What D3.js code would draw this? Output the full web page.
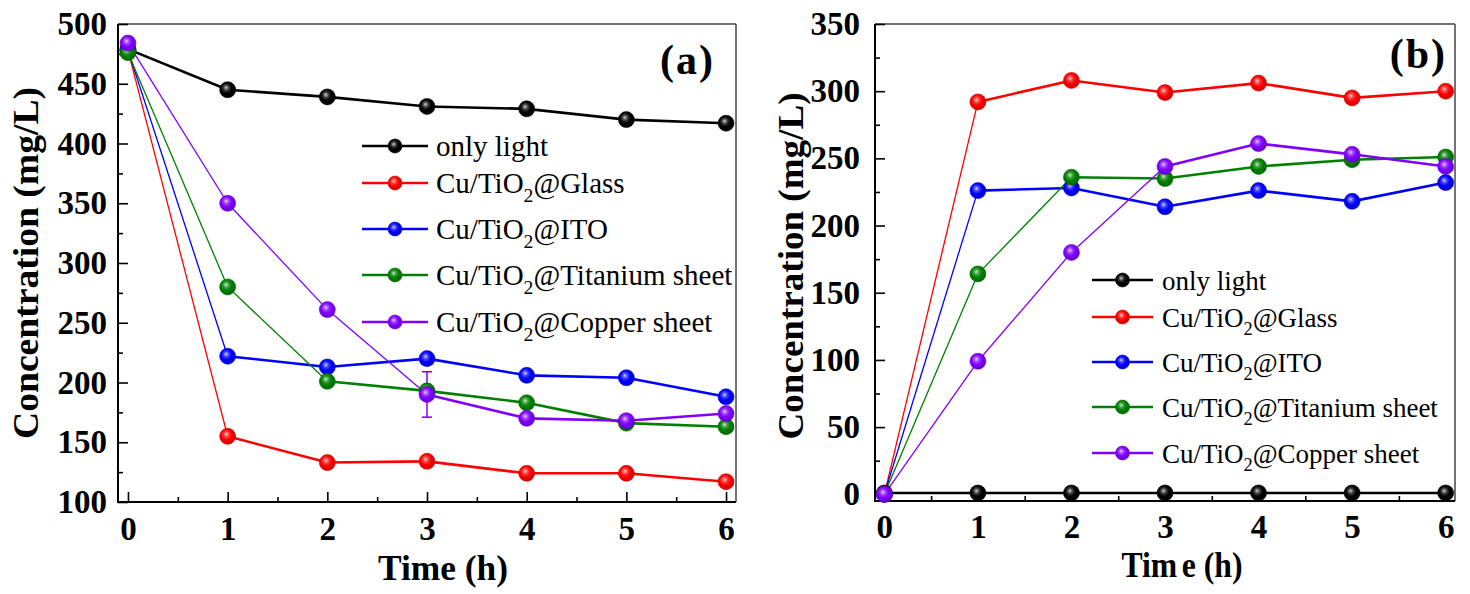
<!DOCTYPE html>
<html><head><meta charset="utf-8">
<script src="https://cdn.jsdelivr.net/npm/d3@7"></script>
<style>body{margin:0;background:#fff} svg{display:block}</style>
</head><body><svg id="c" width="1470" height="594"></svg>
<script>
// ---------------- data ----------------
const hours = [0, 1, 2, 3, 4, 5, 6];
const seriesNames = ["only light", "Cu/TiO2@Glass", "Cu/TiO2@ITO", "Cu/TiO2@Titanium sheet", "Cu/TiO2@Copper sheet"];
const seriesColors = ["#000000", "#ff0000", "#0000ff", "#008000", "#8000ff"];

// panel (a): concentration vs time
const aOnlyLight = [479, 445, 439, 431, 429, 420, 417];
const aGlass     = [478, 155, 133, 134, 124, 124, 117];
const aITO       = [478, 222, 213, 220, 206, 204, 188];
const aTitanium  = [476, 280, 201, 193, 183, 166, 163];
const aCopper    = [484, 350, 261, 190, 170, 168, 174];
const aErrHours  = [3];
const aErrValues = [19];   // error on Copper sheet series
const aYTicks = [100, 150, 200, 250, 300, 350, 400, 450, 500];

// panel (b): concentration vs time
const bOnlyLight = [1, 1, 1, 1, 1, 1, 1];
const bGlass     = [0, 292, 308, 299, 306, 295, 300];
const bITO       = [0, 226, 228, 214, 226, 218, 232];
const bTitanium  = [0, 164, 236, 235, 244, 249, 251];
const bCopper    = [0, 99, 180, 244, 261, 253, 244];
const bYTicks = [0, 50, 100, 150, 200, 250, 300, 350];

const xTicks = [0, 1, 2, 3, 4, 5, 6];
const xTitle = "Time (h)";
const yTitle = "Concentration (mg/L)";

// ---------------- drawing ----------------
const svg = d3.select("#c");
const FONT = "'Liberation Serif','Times New Roman',Times,serif";
const defs = svg.append("defs");
seriesColors.forEach((c, i) => {
  const g = defs.append("radialGradient").attr("id", "sph" + i)
    .attr("cx", "45%").attr("cy", "42%").attr("r", "60%").attr("fx", "40%").attr("fy", "36%");
  const base = d3.color(c);
  g.append("stop").attr("offset", "0%").attr("stop-color", d3.interpolateRgb(c, "#ffffff")(0.8));
  g.append("stop").attr("offset", "28%").attr("stop-color", d3.interpolateRgb(c, "#ffffff")(0.25));
  g.append("stop").attr("offset", "55%").attr("stop-color", c);
  g.append("stop").attr("offset", "100%").attr("stop-color", base.darker(0.7).formatHex());
});

function legendLabel(sel, name, subSize, subDy) {
  const k = name.indexOf("TiO2");
  if (k < 0) { sel.text(name); return; }
  sel.append("tspan").text(name.slice(0, k + 3));
  sel.append("tspan").attr("font-size", subSize).attr("dy", subDy).text("2");
  sel.append("tspan").attr("dy", -subDy).text(name.slice(k + 4));
}

function panel(cfg) {
  const g = svg.append("g");
  const x = d3.scaleLinear().domain([-0.1, 6.1]).range([cfg.left, cfg.right]);
  const y = d3.scaleLinear().domain(cfg.yDomain).range([cfg.bottom, cfg.top]);

  // frame
  g.append("line").attr("x1", cfg.left).attr("x2", cfg.right).attr("y1", cfg.top).attr("y2", cfg.top)
    .attr("stroke", "#444").attr("stroke-width", 1.5);
  g.append("line").attr("x1", cfg.right).attr("x2", cfg.right).attr("y1", cfg.top).attr("y2", cfg.bottom)
    .attr("stroke", "#444").attr("stroke-width", 1.5);

  // y axis major + minor (inward)
  const yMinor = [];
  for (let i = 0; i < cfg.yTicks.length - 1; i++) yMinor.push((cfg.yTicks[i] + cfg.yTicks[i + 1]) / 2);
  const yAxMinor = g.append("g").attr("transform", `translate(${cfg.left},0)`)
    .call(d3.axisLeft(y).tickValues(yMinor).tickSize(-5).tickFormat(""));
  const yAx = g.append("g").attr("transform", `translate(${cfg.left},0)`)
    .call(d3.axisLeft(y).tickValues(cfg.yTicks).tickSize(-10).tickPadding(cfg.yPad));
  [yAxMinor, yAx].forEach(a => { a.select(".domain").remove(); a.selectAll("line").attr("stroke", "#000").attr("stroke-width", 1.6); });
  yAx.selectAll("text").attr("font-family", FONT).attr("font-weight", "bold").attr("font-size", 33).attr("fill", "#000");

  // x axis major + minor (inward)
  const xMinor = xTicks.slice(0, -1).map(v => v + 0.5);
  const xAxMinor = g.append("g").attr("transform", `translate(0,${cfg.bottom})`)
    .call(d3.axisBottom(x).tickValues(xMinor).tickSize(-5).tickFormat(""));
  const xAx = g.append("g").attr("transform", `translate(0,${cfg.bottom})`)
    .call(d3.axisBottom(x).tickValues(xTicks).tickSize(-10).tickFormat(d3.format("d")));
  [xAxMinor, xAx].forEach(a => { a.select(".domain").remove(); a.selectAll("line").attr("stroke", "#000").attr("stroke-width", 1.6); });
  xAx.selectAll("text").attr("font-family", FONT).attr("font-weight", "bold").attr("font-size", 33).attr("fill", "#000")
    .attr("dy", null).attr("y", cfg.xLabelBase - cfg.bottom);

  // axis lines
  g.append("line").attr("x1", cfg.left).attr("x2", cfg.left).attr("y1", cfg.top).attr("y2", cfg.bottom + 1)
    .attr("stroke", "#000").attr("stroke-width", 2);
  g.append("line").attr("x1", cfg.left - 1).attr("x2", cfg.right).attr("y1", cfg.bottom).attr("y2", cfg.bottom)
    .attr("stroke", "#000").attr("stroke-width", 2);

  // series lines (segment by segment)
  cfg.series.forEach((vals, si) => {
    for (let i = 0; i < hours.length - 1; i++) {
      const x1 = x(hours[i]), y1 = y(vals[i]), x2 = x(hours[i + 1]), y2 = y(vals[i + 1]);
      const steep = Math.abs((y2 - y1) / (x2 - x1)) > 0.8;
      g.append("line").attr("x1", x1).attr("y1", y1).attr("x2", x2).attr("y2", y2)
        .attr("stroke", seriesColors[si]).attr("stroke-width", steep ? 1.3 : 2.6);
    }
  });
  // error bars
  if (cfg.err) {
    cfg.err.hours.forEach((h, k) => {
      const vals = cfg.series[cfg.err.series];
      const v = vals[hours.indexOf(h)], e = cfg.err.values[k];
      const cx = x(h), col = seriesColors[cfg.err.series];
      g.append("line").attr("x1", cx).attr("x2", cx).attr("y1", y(v + e)).attr("y2", y(v - e)).attr("stroke", col).attr("stroke-width", 1.5);
      [v + e, v - e].forEach(t => g.append("line").attr("x1", cx - 5).attr("x2", cx + 5).attr("y1", y(t)).attr("y2", y(t)).attr("stroke", col).attr("stroke-width", 1.5));
    });
  }
  // markers
  cfg.series.forEach((vals, si) => {
    g.selectAll(null).data(vals).enter().append("circle")
      .attr("cx", (d, i) => x(hours[i])).attr("cy", d => y(d)).attr("r", 8)
      .attr("fill", `url(#sph${si})`).attr("stroke", d3.color(seriesColors[si]).darker(0.5).formatHex()).attr("stroke-width", 0.6);
  });

  // legend
  const L = cfg.legend;
  seriesNames.forEach((name, si) => {
    const ly = L.ys[si];
    g.append("line").attr("x1", L.x1).attr("x2", L.x2).attr("y1", ly).attr("y2", ly)
      .attr("stroke", seriesColors[si]).attr("stroke-width", 2.6);
    g.append("circle").attr("cx", (L.x1 + L.x2) / 2).attr("cy", ly).attr("r", 7)
      .attr("fill", `url(#sph${si})`).attr("stroke", d3.color(seriesColors[si]).darker(0.5).formatHex()).attr("stroke-width", 0.6);
    const t = g.append("text").attr("x", L.tx).attr("y", ly + 10).attr("font-family", FONT)
      .attr("font-size", L.fs).attr("fill", "#000");
    legendLabel(t, name, L.fs * 0.68, L.fs * 0.3);
  });

  // panel tag
  g.append("text").attr("x", cfg.tag.x).attr("y", cfg.tag.y).attr("text-anchor", "end")
    .attr("font-family", FONT).attr("font-weight", "bold").attr("font-size", 42).attr("letter-spacing", 2)
    .text(cfg.tag.text);

  // axis titles
  const xt = g.append("text").attr("x", cfg.xTitle.x).attr("y", cfg.xTitle.y).attr("text-anchor", "middle")
    .attr("font-family", FONT).attr("font-weight", "bold").attr("font-size", 35)
    .attr("textLength", cfg.xTitle.len).attr("lengthAdjust", "spacingAndGlyphs");
  if (cfg.xTitle.gap) {
    xt.append("tspan").text(xTitle.slice(0, 3));
    xt.append("tspan").attr("dx", cfg.xTitle.gap).text(xTitle.slice(3));
  } else xt.text(xTitle);
  g.append("text").attr("transform", `translate(${cfg.yTitle.x},${cfg.yTitle.y}) rotate(-90)`)
    .attr("text-anchor", "middle").attr("font-family", FONT).attr("font-weight", "bold").attr("font-size", 36)
    .attr("textLength", cfg.yTitle.len).attr("lengthAdjust", "spacingAndGlyphs")
    .text(yTitle);
}

panel({
  left: 118, right: 736, top: 24, bottom: 502, yDomain: [100, 500], yTicks: aYTicks, yPad: 11,
  xLabelBase: 540,
  series: [aOnlyLight, aGlass, aITO, aTitanium, aCopper],
  err: { series: 4, hours: aErrHours, values: aErrValues },
  legend: { x1: 362, x2: 428, tx: 436, fs: 29, ys: [146, 183, 229, 275, 322] },
  tag: { text: "(a)", x: 715, y: 74 },
  xTitle: { x: 443, y: 580, len: 130 },
  yTitle: { x: 38, y: 263, len: 352 }
});
panel({
  left: 875, right: 1455, top: 24, bottom: 501, yDomain: [-5, 350], yTicks: bYTicks, yPad: 15,
  xLabelBase: 538,
  series: [bOnlyLight, bGlass, bITO, bTitanium, bCopper],
  err: null,
  legend: { x1: 1092, x2: 1153, tx: 1162, fs: 27, ys: [280, 317, 362, 407, 453] },
  tag: { text: "(b)", x: 1447, y: 68 },
  xTitle: { x: 1182, y: 577, len: 121, gap: 5 },
  yTitle: { x: 803, y: 266, len: 347 }
});
</script></body></html>
